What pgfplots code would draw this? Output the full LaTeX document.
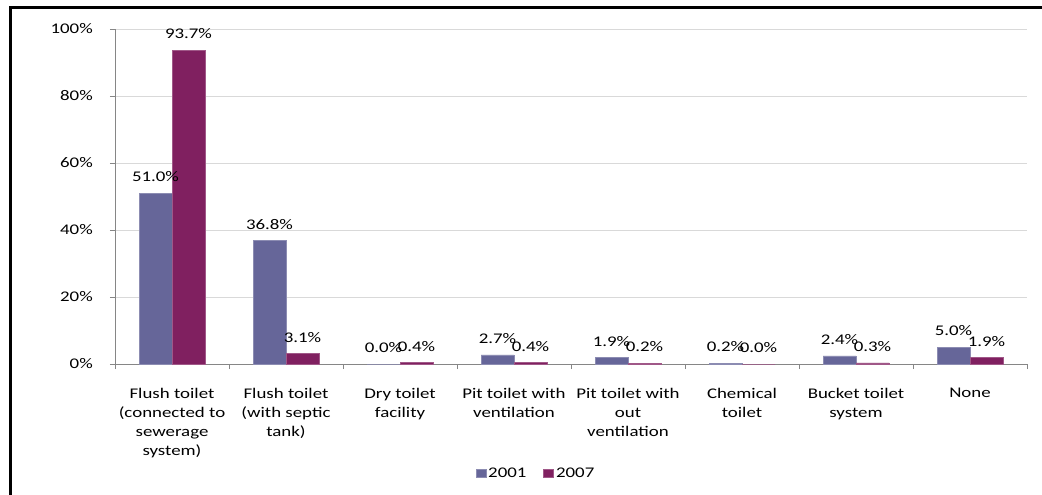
\documentclass[border=0pt]{standalone}
\usepackage{fontspec}
\setmainfont{Carlito}[FakeStretch=1.28]
\usepackage{pgfplots}
\pgfplotsset{compat=1.18}
\definecolor{ser01}{RGB}{102,102,153}
\definecolor{ser07}{RGB}{128,32,96}
\definecolor{gridgray}{RGB}{217,217,217}
\definecolor{axgray}{RGB}{134,134,134}
\newcommand{\chartfont}{\fontsize{14.8}{19}\selectfont}

\begin{document}
\begin{tikzpicture}
% picture = 1042 x 495 bp, axis box lower left at origin
\useasboundingbox (-115bp,-131bp) rectangle (927bp,364bp);
\begin{axis}[
    scale only axis,
    width=912bp, height=335bp,
    at={(0,0)}, anchor=south west,
    ybar=0pt, bar width=33bp,
    xmin=-0.5, xmax=7.5,
    ymin=0, ymax=100,
    axis lines=left,
    axis line style={axgray, -},
    xtick={0,...,7},
    xticklabels={
        {Flush toilet\\(connected to\\sewerage\\system)},
        {Flush toilet\\(with septic\\tank)},
        {Dry toilet\\facility},
        {Pit toilet with\\ventilation},
        {Pit toilet with\\out\\ventilation},
        {Chemical\\toilet},
        {Bucket toilet\\system},
        {None}},
    minor xtick={-0.5,0.5,...,7.5},
    major x tick style={draw=none},
    minor x tick style={axgray},
    ytick={0,20,...,100},
    yticklabels={0\%,20\%,40\%,60\%,80\%,100\%},
    y tick style={axgray},
    tick align=outside,
    major tick length=5bp, minor tick length=5bp,
    ymajorgrids,
    grid style={gridgray, line width=0.8bp},
    xticklabel style={font=\chartfont, align=center, anchor=north, inner sep=0pt, yshift=-19bp},
    yticklabel style={font=\chartfont, anchor=east, inner sep=0pt, xshift=-17bp},
    /pgf/number format/assume math mode=true,
    nodes near coords={\pgfmathprintnumber[fixed,fixed zerofill,precision=1]{\pgfplotspointmeta}\%},
    nodes near coords style={font=\chartfont, anchor=south, inner sep=0pt, yshift=11bp},
    legend columns=2,
    legend style={at={(0.4616,-0.326)}, anchor=center, draw=none, font=\chartfont,
        inner sep=0pt, /tikz/every even column/.append style={column sep=15bp}},
    legend image code/.code={\fill[#1] (0bp,-4bp) rectangle (10bp,4bp);},
]
\addplot[fill=ser01, draw=ser01!75!white, line width=0.6bp] coordinates {
    (0,51.0) (1,36.8) (2,0.0) (3,2.7) (4,1.9) (5,0.2) (6,2.4) (7,5.0)
};
\addplot[fill=ser07, draw=ser07!75!white, line width=0.6bp] coordinates {
    (0,93.7) (1,3.1) (2,0.4) (3,0.4) (4,0.2) (5,0.0) (6,0.3) (7,1.9)
};
\legend{2001,2007}
\end{axis}
% outer chart frame (right and bottom edges fall outside the picture)
\draw[line width=2.2bp] (-104.5bp,-150bp) -- (-104.5bp,356.5bp) -- (950bp,356.5bp);
\end{tikzpicture}
\end{document}
